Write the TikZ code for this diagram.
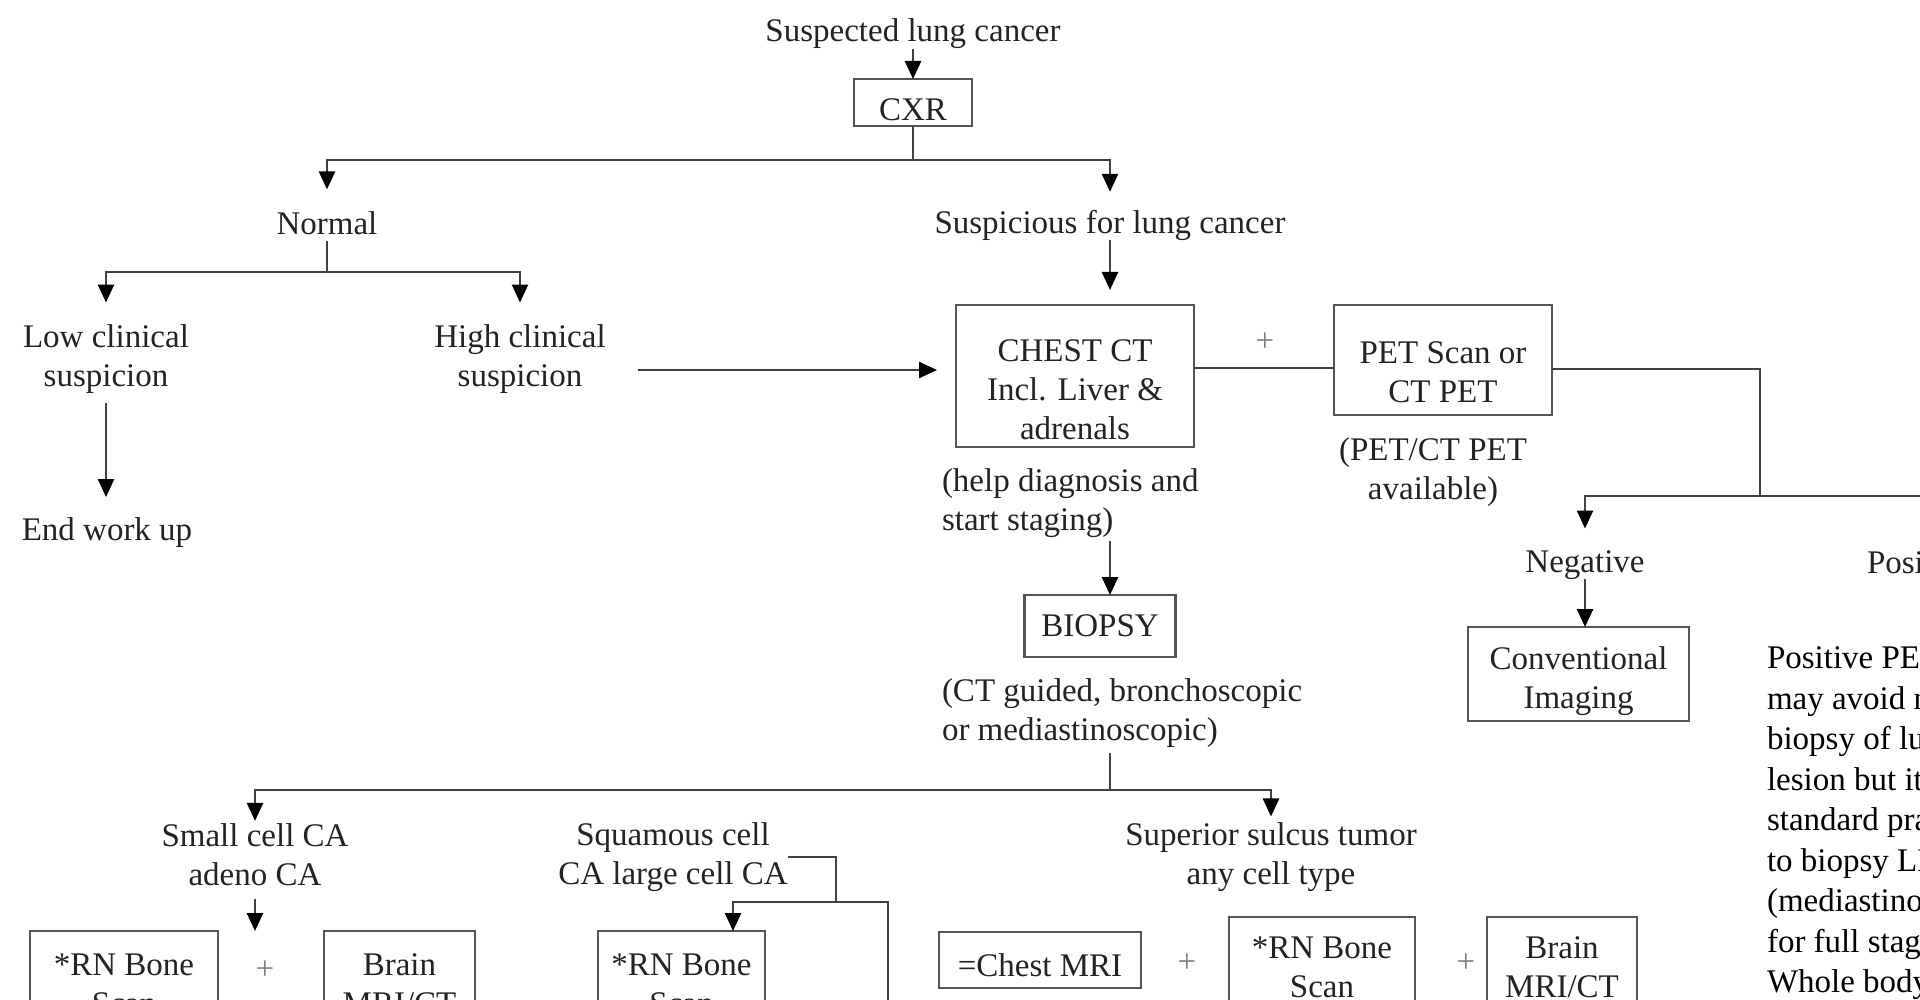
\documentclass[tikz,border=0pt]{standalone}
\usepackage{fontspec}
\setmainfont{Liberation Serif}
\usetikzlibrary{arrows.meta,calc}
\definecolor{ink}{RGB}{35,35,35}
\definecolor{wire}{RGB}{65,65,65}
\definecolor{edge}{RGB}{85,85,85}
\newcommand\tpad[1]{\rule{0pt}{#1}}
\begin{document}
\begin{tikzpicture}[x=1pt,y=-1pt,
  every node/.style={font=\fontsize{33}{39}\selectfont, text=ink, inner sep=0pt, outer sep=0pt},
  lbl/.style={align=center},
  lbll/.style={align=left},
  plus/.style={text=gray},
  box/.style={draw=edge, line width=2.6pt, align=center},
  ln/.style={draw=wire, line width=2.6pt},
  arr/.style={ln, -{Triangle[length=18pt,width=16pt,color=black]}},
]
\path[use as bounding box] (0,0) rectangle (1920,1000);
\clip (0,0) rectangle (1920,1000);

% ---- nodes ----
\node[lbl] (susp) at (913,34) {Suspected lung cancer};
\node[box, minimum width=118pt, minimum height=47pt] (cxr) at (913,102.5) {\tpad{36.5pt}CXR};
\coordinate (j1) at (913,160);
\node[lbl] (normal) at (327,223) {Normal};
\node[lbl] (suspl) at (1110,225) {Suspicious for lung cancer};
\coordinate (j2) at (327,272);
\node[lbl] (low) at (106,359) {Low clinical\\suspicion};
\node[lbl] (high) at (520,359) {High clinical\\suspicion};
\node[lbl] (endw) at (107,533) {End work up};
\node[box, minimum width=238pt, minimum height=142pt] (chest) at (1075,376) {\tpad{48.5pt}CHEST CT\\Incl. Liver \&\\adrenals};
\node[plus] (plus1) at (1265,342) {+};
\node[box, minimum width=218pt, minimum height=110pt] (pet) at (1443,360) {\tpad{46.5pt}PET Scan or\\CT PET};
\node[lbl] (petnote) at (1433,472) {(PET/CT PET\\available)};
\coordinate (j3) at (1760,496);
\node[lbl] (neg) at (1585,565) {Negative};
\node[lbl, anchor=west] (pos) at (1867,563) {Positive};
\node[box, minimum width=221pt, minimum height=94pt] (conv) at (1578.5,674) {\tpad{36.5pt}Conventional\\Imaging};
\node[lbll, anchor=north west, text=black, font=\fontsize{33}{40.5}\selectfont] (posnote) at (1767,647) {Positive PET scan\\may avoid need for\\biopsy of lung\\lesion but it is\\standard practice\\to biopsy LN\\(mediastinoscopy)\\for full staging.\\Whole body PET};
\node[lbll, anchor=west] (help) at (942,503) {(help diagnosis and\\start staging)};
\node[box, minimum width=151pt, minimum height=62pt] (biopsy) at (1100,626) {BIOPSY};
\node[lbll, anchor=west] (ctg) at (942,713) {(CT guided, bronchoscopic\\or mediastinoscopic)};
\coordinate (j4) at (1110,790);
\node[lbl] (small) at (255,855) {Small cell CA\\adeno CA};
\node[lbl] (squam) at (673,857) {Squamous cell\\CA large cell CA};
\node[lbl] (sup) at (1271,857) {Superior sulcus tumor\\any cell type};
\coordinate (scend) at (255,931);
\node[box, minimum width=188pt, minimum height=106pt] (rn1) at (124,984) {*RN Bone\\Scan};
\node[plus] (plus2) at (265,970) {+};
\node[box, minimum width=151pt, minimum height=106pt] (br1) at (399.5,984) {Brain\\MRI/CT};
\coordinate (j5) at (836,902);
\node[box, minimum width=167pt, minimum height=106pt] (rn2) at (681.5,984) {*RN Bone\\Scan};
\coordinate (sqdown) at (888,1010);
\node[box, minimum width=202pt, minimum height=56pt] (cmri) at (1040,960) {\tpad{32.5pt}=Chest MRI};
\node[plus] (plus3) at (1187,963) {+};
\node[box, minimum width=186pt, minimum height=101pt] (rn3) at (1322,967.5) {*RN Bone\\Scan};
\node[plus] (plus4) at (1466,963) {+};
\node[box, minimum width=150pt, minimum height=101pt] (br3) at (1562,967.5) {Brain\\MRI/CT};

% ---- connectors ----
\draw[arr] (susp) -- (cxr);
\draw[ln] (cxr) -- (j1);
\draw[arr, shorten >=22pt] (j1) -| (normal.north);
\draw[arr, shorten >=18pt] (j1) -| (suspl.north);
\draw[ln, shorten <=6pt] (normal.south) -- (j2);
\draw[arr, shorten >=22pt] (j2) -| (low.north);
\draw[arr, shorten >=22pt] (j2) -| (high.north);
\draw[arr, shorten <=10pt, shorten >=21pt] (low.south) -- (low.south |- endw.north);
\draw[arr, shorten <=32pt, shorten >=19pt] ($(high.east |- chest.west)+(0,-6)$) -- ($(chest.west)+(0,-6)$);
\draw[ln] ($(chest.east)+(0,-8)$) -- ($(pet.west)+(0,8)$);
\draw[ln] ($(pet.east)+(0,9)$) -| (j3);
\draw[arr, shorten >=22pt] (j3) -| (neg.north);
\draw[ln] (j3) -- (j3 -| pos.east);
\draw[arr] (neg.south) -- (neg.south |- conv.north);
\draw[arr, shorten >=15pt] (suspl.south) -- (suspl.south |- chest.north);
\draw[arr, shorten <=3pt] (help.south -| suspl.south) -- (biopsy.north -| suspl.south);
\draw[ln, shorten <=6pt] (ctg.south -| suspl.south) -- (j4);
\draw[arr, shorten >=3pt] (j4) -| (small.north);
\draw[arr, shorten >=6pt] (j4) -| (sup.north);
\draw[arr, shorten <=13pt] (small.south) -- (scend);
\draw[ln] (squam.east) -| (j5);
\draw[arr] (j5) -| ($(rn2.north)+(51.5,0)$);
\draw[ln] (j5) -| (sqdown);
\end{tikzpicture}
\end{document}
